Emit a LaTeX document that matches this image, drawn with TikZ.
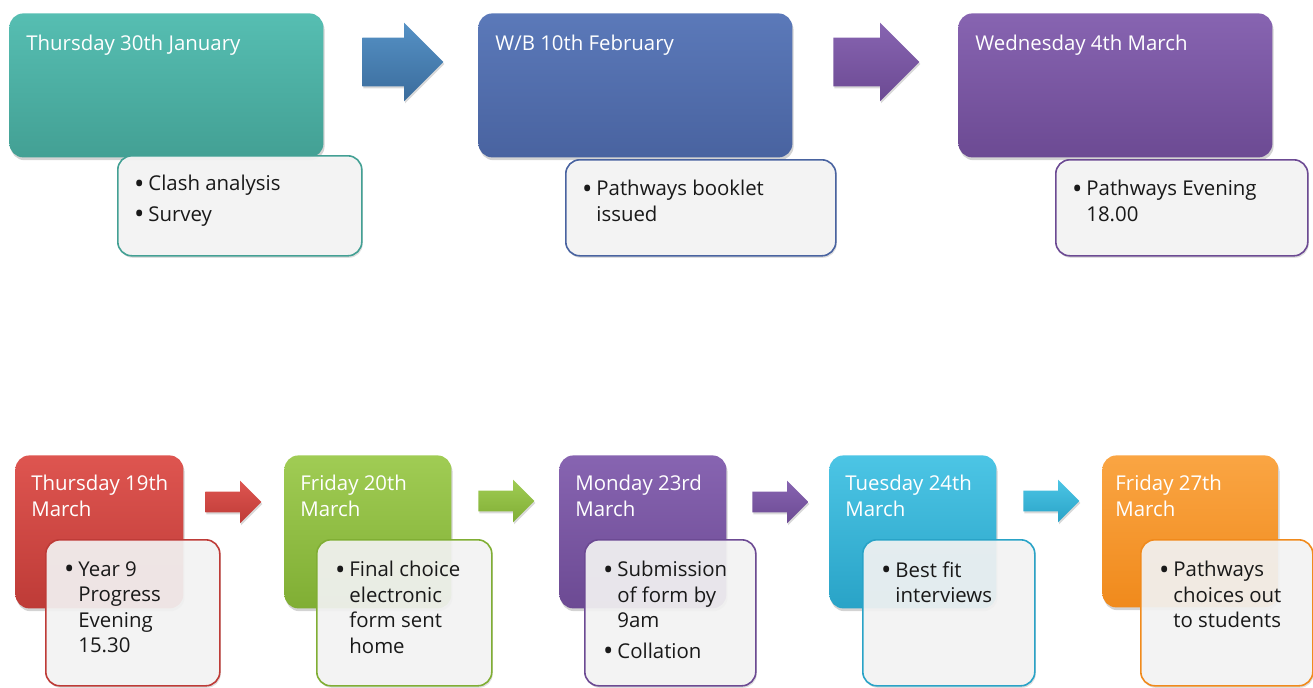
\documentclass[tikz,border=0pt]{standalone}
\usepackage{fontspec}
\setmainfont{Open Sans}
\usetikzlibrary{positioning,shapes.arrows,shadows}

\definecolor{tealA}{HTML}{56BEB2}\definecolor{tealB}{HTML}{43A094}
\definecolor{blueA}{HTML}{5B79B9}\definecolor{blueB}{HTML}{4963A0}
\definecolor{violA}{HTML}{8764B1}\definecolor{violB}{HTML}{6C4A93}
\definecolor{redA}{HTML}{DE5550}\definecolor{redB}{HTML}{BE3B37}
\definecolor{greenA}{HTML}{A0CC54}\definecolor{greenB}{HTML}{80AE34}
\definecolor{cyanA}{HTML}{4CC5E5}\definecolor{cyanB}{HTML}{29A3C7}
\definecolor{orangeA}{HTML}{FAA543}\definecolor{orangeB}{HTML}{F08A1C}
\definecolor{steelA}{HTML}{5591C5}\definecolor{steelB}{HTML}{3B6C9C}
\definecolor{infofill}{HTML}{F5F5F5}

\newcommand\bul{\llap{\raisebox{-1.1pt}{\scalebox{1.35}{\textbullet}}\hspace{2pt}}}

\tikzset{
  datebox/.style={draw=none, rounded corners=7pt, inner sep=0pt, anchor=north west,
    top color=#1A, bottom color=#1B,
    drop shadow={opacity=.35, shadow xshift=.6pt, shadow yshift=-1.4pt}},
  infobox/.style={draw=#1B, line width=.8pt, rounded corners=7pt, inner sep=0pt,
    anchor=north west, fill=infofill, fill opacity=.9,
    drop shadow={opacity=.25, shadow xshift=.5pt, shadow yshift=-1pt}},
  barrow/.style={single arrow, draw=none, inner xsep=0pt, anchor=tail,
    top color=#1A, bottom color=#1B,
    drop shadow={opacity=.3, shadow xshift=.5pt, shadow yshift=-1pt}},
  bigarrow/.style={inner ysep=12pt, single arrow head extend=7.5pt, minimum height=40.5pt},
  smallarrow/.style={inner ysep=5pt, single arrow head extend=5.5pt, minimum height=28pt},
  hdr/.style={text=white, inner sep=0pt, align=left, font=\fontsize{10.2}{12.75}\selectfont},
  itm/.style={text=black!90, inner sep=0pt, align=left, font=\fontsize{10.2}{12.75}\selectfont}
}

\begin{document}
\begin{tikzpicture}[x=0.5pt, y=-0.5pt]
\useasboundingbox (0,0) rectangle (1313,687);

% top row
\node[datebox=teal, minimum width=157pt, minimum height=72pt] (d1) at (9,13) {};
\node[datebox=blue, minimum width=157pt, minimum height=72pt] (d2) at (478,13) {};
\node[datebox=viol, minimum width=157pt, minimum height=72pt] (d3) at (958,13) {};
\node[barrow=steel, bigarrow] (a1) at (362,62) {};
\node[barrow=viol, bigarrow, minimum height=43pt] (a2) at (833,62) {};

\node[infobox=teal, minimum width=122pt, minimum height=50pt] (i1) at (117,155) {};
\node[infobox=blue, minimum width=135pt, minimum height=48pt] (i2) at (565,159) {};
\node[infobox=viol, minimum width=126pt, minimum height=48pt] (i3) at (1055,159) {};

\node[hdr, below right=11pt and 8.5pt of d1.north west] {Thursday 30th January};
\node[hdr, below right=11pt and 8.5pt of d2.north west] {W/B 10th February};
\node[hdr, below right=11pt and 8.5pt of d3.north west] {Wednesday 4th March};

\node[itm, below right=10pt and 15.5pt of i1.north west] {\bul Clash analysis\\[2.5pt]\bul Survey};
\node[itm, below right=10.5pt and 15.5pt of i2.north west] {\bul Pathways booklet\\issued};
\node[itm, below right=10.5pt and 15.5pt of i3.north west] {\bul Pathways Evening\\18.00};

% bottom row
\node[datebox=red, minimum width=84pt, minimum height=76.5pt] (d4) at (15,455) {};
\node[datebox=green, minimum width=83.5pt, minimum height=76.5pt] (d5) at (284,455) {};
\node[datebox=viol, minimum width=83.5pt, minimum height=76.5pt] (d6) at (559,455) {};
\node[datebox=cyan, minimum width=83.5pt, minimum height=76.5pt] (d7) at (829,455) {};
\node[datebox=orange, minimum width=88pt, minimum height=76pt] (d8) at (1102,455) {};

\node[barrow=red, smallarrow] (a4) at (205,502) {};
\node[barrow=green, smallarrow] (a5) at (478,501) {};
\node[barrow=viol, smallarrow] (a6) at (752,502) {};
\node[barrow=cyan, smallarrow] (a7) at (1023,501) {};

\node[infobox=red, minimum width=87pt, minimum height=73pt] (i4) at (45,539) {};
\node[infobox=green, minimum width=87.5pt, minimum height=73pt] (i5) at (316,539) {};
\node[infobox=viol, minimum width=85.5pt, minimum height=73pt] (i6) at (584,539) {};
\node[infobox=cyan, minimum width=86pt, minimum height=73pt] (i7) at (862,539) {};
\node[infobox=orange, minimum width=86pt, minimum height=73pt] (i8) at (1140,539) {};

\node[hdr, below right=10pt and 8pt of d4.north west] {Thursday 19th\\March};
\node[hdr, below right=10pt and 8pt of d5.north west] {Friday 20th\\March};
\node[hdr, below right=10pt and 8pt of d6.north west] {Monday 23rd\\March};
\node[hdr, below right=10pt and 8pt of d7.north west] {Tuesday 24th\\March};
\node[hdr, below right=10pt and 6.5pt of d8.north west] {Friday 27th\\March};

\node[itm, below right=11pt and 16.5pt of i4.north west] {\bul Year 9\\Progress\\Evening\\15.30};
\node[itm, below right=11pt and 16.5pt of i5.north west] {\bul Final choice\\electronic\\form sent\\home};
\node[itm, below right=11pt and 16.5pt of i6.north west] {\bul Submission\\of form by\\9am\\[2.5pt]\bul Collation};
\node[itm, below right=11pt and 16.5pt of i7.north west] {\bul Best fit\\interviews};
\node[itm, below right=11pt and 16.5pt of i8.north west] {\bul Pathways\\choices out\\to students};
\end{tikzpicture}
\end{document}
